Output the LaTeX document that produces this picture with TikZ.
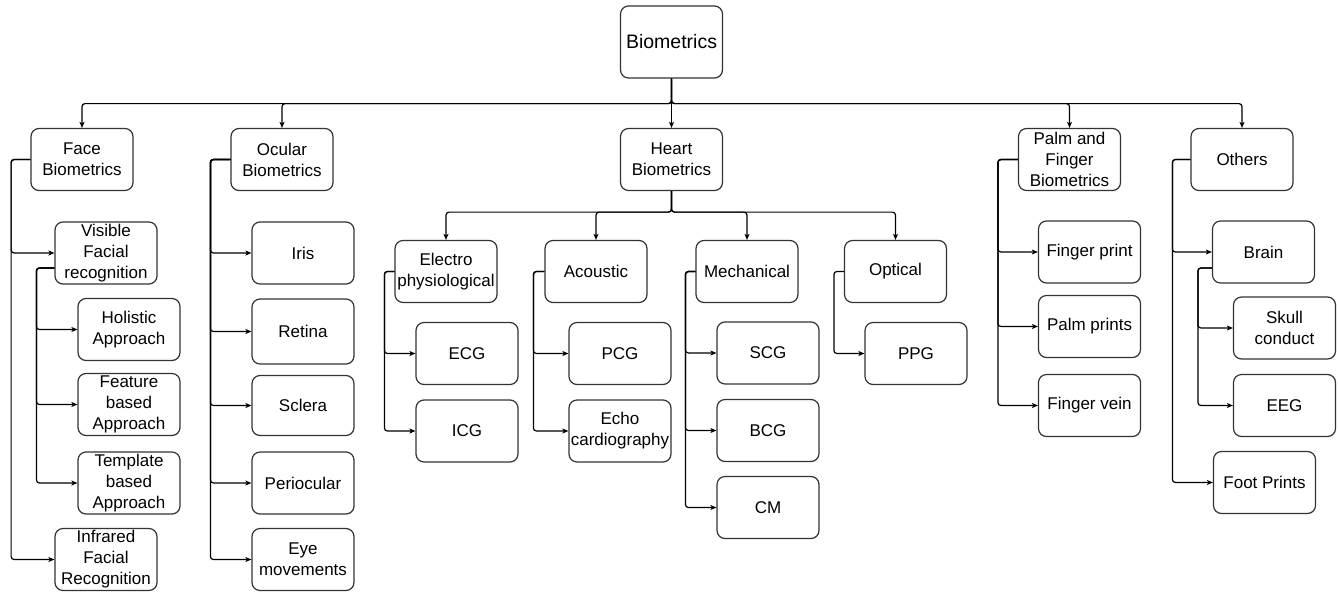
\documentclass[tikz,border=0pt]{standalone}
\usepackage{fontspec}
\setmainfont{Liberation Sans}
\usetikzlibrary{arrows.meta,calc}
\tikzset{
  box/.style={draw=black!80, line width=1.2pt, rounded corners=8pt, minimum width=102pt,
    minimum height=62pt, inner sep=0pt, align=center, fill=white,
    font=\fontsize{17}{21}\selectfont},
  conn/.style={draw=black, line width=1.2pt, rounded corners=3pt,
    -{Stealth[length=6pt,width=5pt,inset=1.5pt]}},
}
\begin{document}
\begin{tikzpicture}[x=1pt,y=-1pt]
\useasboundingbox (0,0) rectangle (1338,592);
% top level
\node[box, minimum height=72pt, font=\fontsize{19.5}{23}\selectfont] (root) at (671.5,42) {Biometrics};
\node[box] (face) at (82,159.5) {Face\\Biometrics};
\node[box] (ocular) at (282,159.5) {Ocular\\Biometrics};
\node[box] (heart) at (671.5,159.5) {Heart\\Biometrics};
\node[box] (palm) at (1069.5,159.5) {Palm and\\Finger\\Biometrics};
\node[box] (others) at (1242,159.5) {Others};
% face
\node[box] (vis) at (106,253) {Visible\\Facial\\recognition};
\node[box] (holistic) at (129,329.5) {Holistic\\Approach};
\node[box] (feature) at (129,404.5) {Feature\\based\\Approach};
\node[box] (template) at (129,483) {Template\\based\\Approach};
\node[box] (infrared) at (106,559.5) {Infrared\\Facial\\Recognition};
% ocular
\node[box] (iris) at (303,253) {Iris};
\node[box, minimum height=65pt] (retina) at (303,331.5) {Retina};
\node[box, minimum height=60pt] (sclera) at (303,405.5) {Sclera};
\node[box] (periocular) at (303,483) {Periocular};
\node[box] (eye) at (303,559.5) {Eye\\movements};
% heart
\node[box] (electro) at (446,271.5) {Electro\\physiological};
\node[box] (acoustic) at (596,271.5) {Acoustic};
\node[box] (mech) at (747,271.5) {Mechanical};
\node[box] (optical) at (895.5,271.5) {Optical};
\node[box] (ecg) at (467,353.5) {ECG};
\node[box] (icg) at (467,431) {ICG};
\node[box] (pcg) at (620,353.5) {PCG};
\node[box] (echo) at (620,431) {Echo\\cardiography};
\node[box] (scg) at (768,353) {SCG};
\node[box] (bcg) at (768,430.5) {BCG};
\node[box] (cm) at (768,507.5) {CM};
\node[box] (ppg) at (916,353.5) {PPG};
% palm
\node[box] (fprint) at (1089.5,252) {Finger print};
\node[box] (palmp) at (1089.5,326.5) {Palm prints};
\node[box] (fvein) at (1089.5,405.5) {Finger vein};
% others
\node[box] (brain) at (1263.5,252) {Brain};
\node[box] (skull) at (1284.5,328) {Skull\\conduct};
\node[box] (eeg) at (1284.5,405.5) {EEG};
\node[box] (foot) at (1264.5,482.5) {Foot Prints};

% root bus
\foreach \c in {face,ocular,heart,palm,others}
  \draw[conn] (root.south) -- ++(0,25) -| (\c.north);
% heart bus
\foreach \c in {electro,acoustic,mech,optical}
  \draw[conn] (heart.south) -- ++(0,21) -| (\c.north);
% face trunk
\foreach \c in {vis,infrared}
  \draw[conn] (face.west) -- ++(-19.3,0) |- (\c.west);
\foreach \c in {holistic,feature,template}
  \draw[conn] ($(vis.west)+(0,15)$) -- ++(-18,0) |- (\c.west);
% ocular trunk
\foreach \c in {iris,retina,sclera,periocular,eye}
  \draw[conn] (ocular.west) -- ++(-20,0) |- (\c.west);
% heart subtrees
\foreach \c in {ecg,icg}
  \draw[conn] (electro.west) -- ++(-10,0) |- (\c.west);
\foreach \c in {pcg,echo}
  \draw[conn] (acoustic.west) -- ++(-11,0) |- (\c.west);
\foreach \c in {scg,bcg,cm}
  \draw[conn] (mech.west) -- ++(-10,0) |- (\c.west);
\draw[conn] (optical.west) -- ++(-10,0) |- (ppg.west);
% palm trunk
\foreach \c in {fprint,palmp,fvein}
  \draw[conn] (palm.west) -- ++(-20,0) |- (\c.west);
% others trunk
\foreach \c in {brain,foot}
  \draw[conn] (others.west) -- ++(-18,0) |- (\c.west);
\foreach \c in {skull,eeg}
  \draw[conn] ($(brain.west)+(0,16)$) -- ++(-14,0) |- (\c.west);
\end{tikzpicture}
\end{document}
